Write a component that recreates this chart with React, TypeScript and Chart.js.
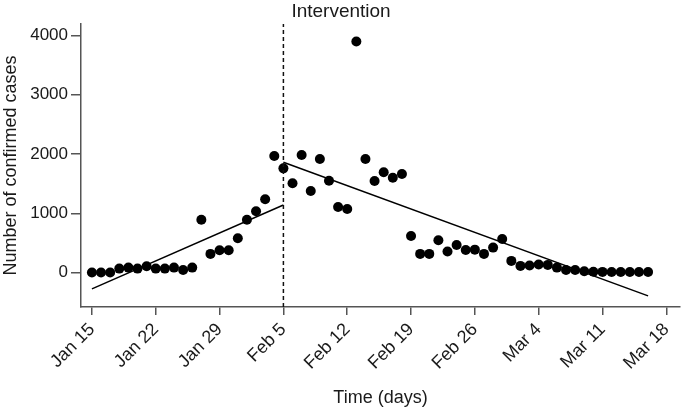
import React, { useEffect, useRef } from "react";
import { Chart, registerables } from "chart.js";

Chart.register(...registerables);

// Daily confirmed cases, starting Jan 15 (index = days since Jan 15)
const dailyCases: number[] = [
  0, 0, 0, 67, 84, 67, 108, 67, 67, 84, 45, 84, 892, 315, 377, 377, 579, 892, 1034, 1236,
  1965, 1757, 1505, 1982, 1375, 1914, 1549, 1106, 1072, 3896, 1914, 1544, 1690, 1599, 1662,
  618, 315, 315, 545, 354, 466, 382, 387, 315, 421, 567, 197, 113, 118, 135, 130, 84, 45, 45,
  24, 15, 12, 10, 10, 10, 10, 10,
];

// Regression segments (day, value)
const preLineDays: number[] = [0, 21];
const preLineValues: number[] = [-274, 1140];
const postLineDays: number[] = [21, 61];
const postLineValues: number[] = [1859, -392];

const interventionDay = 21;
const interventionLabel = "Intervention";

const xTickDays: number[] = [0, 7, 14, 21, 28, 35, 42, 49, 56, 63];
const xTickLabels: string[] = [
  "Jan 15", "Jan 22", "Jan 29", "Feb 5", "Feb 12", "Feb 19", "Feb 26", "Mar 4", "Mar 11", "Mar 18",
];
const yTickValues: number[] = [0, 1000, 2000, 3000, 4000];

const xRange: number[] = [-1.2, 64.5];
const yRange: number[] = [-580, 4190];

const FONT = '"Liberation Sans", Arial, Helvetica, sans-serif';
const AXIS = "#555555";
const TEXT = "#1a1a1a";

export default function App() {
  const ref = useRef<HTMLCanvasElement | null>(null);

  useEffect(() => {
    if (!ref.current) return;
    const scatterData = dailyCases.map((v, i) => ({ x: i, y: v }));
    const pre = preLineDays.map((d, i) => ({ x: d, y: preLineValues[i] }));
    const post = postLineDays.map((d, i) => ({ x: d, y: postLineValues[i] }));
    const vline = [
      { x: interventionDay, y: yRange[0] },
      { x: interventionDay, y: yRange[1] },
    ];

    const labelPlugin = {
      id: "interventionLabel",
      afterDraw(chart: any) {
        const ctx = chart.ctx;
        const xs = chart.scales.x;
        const px = xs.getPixelForValue(interventionDay);
        ctx.save();
        ctx.font = `19px ${FONT}`;
        ctx.fillStyle = TEXT;
        ctx.textAlign = "left";
        ctx.textBaseline = "alphabetic";
        ctx.fillText(interventionLabel, px + 8, 17);
        ctx.restore();
      },
    };

    const chart = new Chart(ref.current, {
      type: "scatter",
      data: {
        datasets: [
          {
            data: vline,
            showLine: true,
            borderColor: "#111",
            borderWidth: 1.5,
            borderDash: [4, 3],
            pointRadius: 0,
          },
          {
            data: pre,
            showLine: true,
            borderColor: "#000",
            borderWidth: 1.5,
            pointRadius: 0,
          },
          {
            data: post,
            showLine: true,
            borderColor: "#000",
            borderWidth: 1.5,
            pointRadius: 0,
          },
          {
            data: scatterData,
            showLine: false,
            backgroundColor: "#000",
            borderWidth: 0,
            pointRadius: 5,
          },
        ],
      },
      options: {
        responsive: false,
        animation: false,
        layout: { autoPadding: false, padding: { top: 24, right: 1, left: 0, bottom: 0 } },
        plugins: {
          legend: { display: false },
          tooltip: { enabled: false },
        },
        scales: {
          x: {
            type: "linear",
            min: xRange[0],
            max: xRange[1],
            afterBuildTicks: (s: any) => {
              s.ticks = xTickDays.map((v) => ({ value: v }));
            },
            afterFit: (s: any) => {
              s.height = 106;
              s.paddingLeft = 0;
              s.paddingRight = 0;
            },
            ticks: {
              autoSkip: false,
              minRotation: 45,
              maxRotation: 45,
              padding: 4,
              color: TEXT,
              font: { family: FONT, size: 18 },
              callback: (v: any) => {
                const idx = xTickDays.indexOf(Number(v));
                return idx >= 0 ? xTickLabels[idx] : "";
              },
            },
            grid: {
              drawOnChartArea: false,
              drawTicks: true,
              tickLength: 8,
              color: AXIS,
              lineWidth: 1.5,
            },
            border: { display: true, color: AXIS, width: 1.5 },
            title: {
              display: true,
              text: "Time (days)",
              color: TEXT,
              font: { family: FONT, size: 18 },
              padding: { top: 0, bottom: 4 },
            },
          },
          y: {
            type: "linear",
            min: yRange[0],
            max: yRange[1],
            afterBuildTicks: (s: any) => {
              s.ticks = yTickValues.map((v) => ({ value: v }));
            },
            afterFit: (s: any) => {
              s.width = 81;
            },
            ticks: {
              padding: 3,
              color: TEXT,
              font: { family: FONT, size: 17 },
              callback: (v: any) => String(v),
            },
            grid: {
              drawOnChartArea: false,
              drawTicks: true,
              tickLength: 10,
              color: AXIS,
              lineWidth: 1.5,
            },
            border: { display: true, color: AXIS, width: 1.5 },
            title: {
              display: true,
              text: "Number of confirmed cases",
              color: TEXT,
              font: { family: FONT, size: 18 },
              padding: { top: 0, bottom: 0 },
            },
          },
        },
      },
      plugins: [labelPlugin],
    });
    return () => chart.destroy();
  }, []);

  return (
    <div style={{ position: "fixed", left: 0, top: 0, width: 681, height: 413, background: "#fff" }}>
      <canvas ref={ref} width={681} height={413} style={{ display: "block" }} />
    </div>
  );
}
